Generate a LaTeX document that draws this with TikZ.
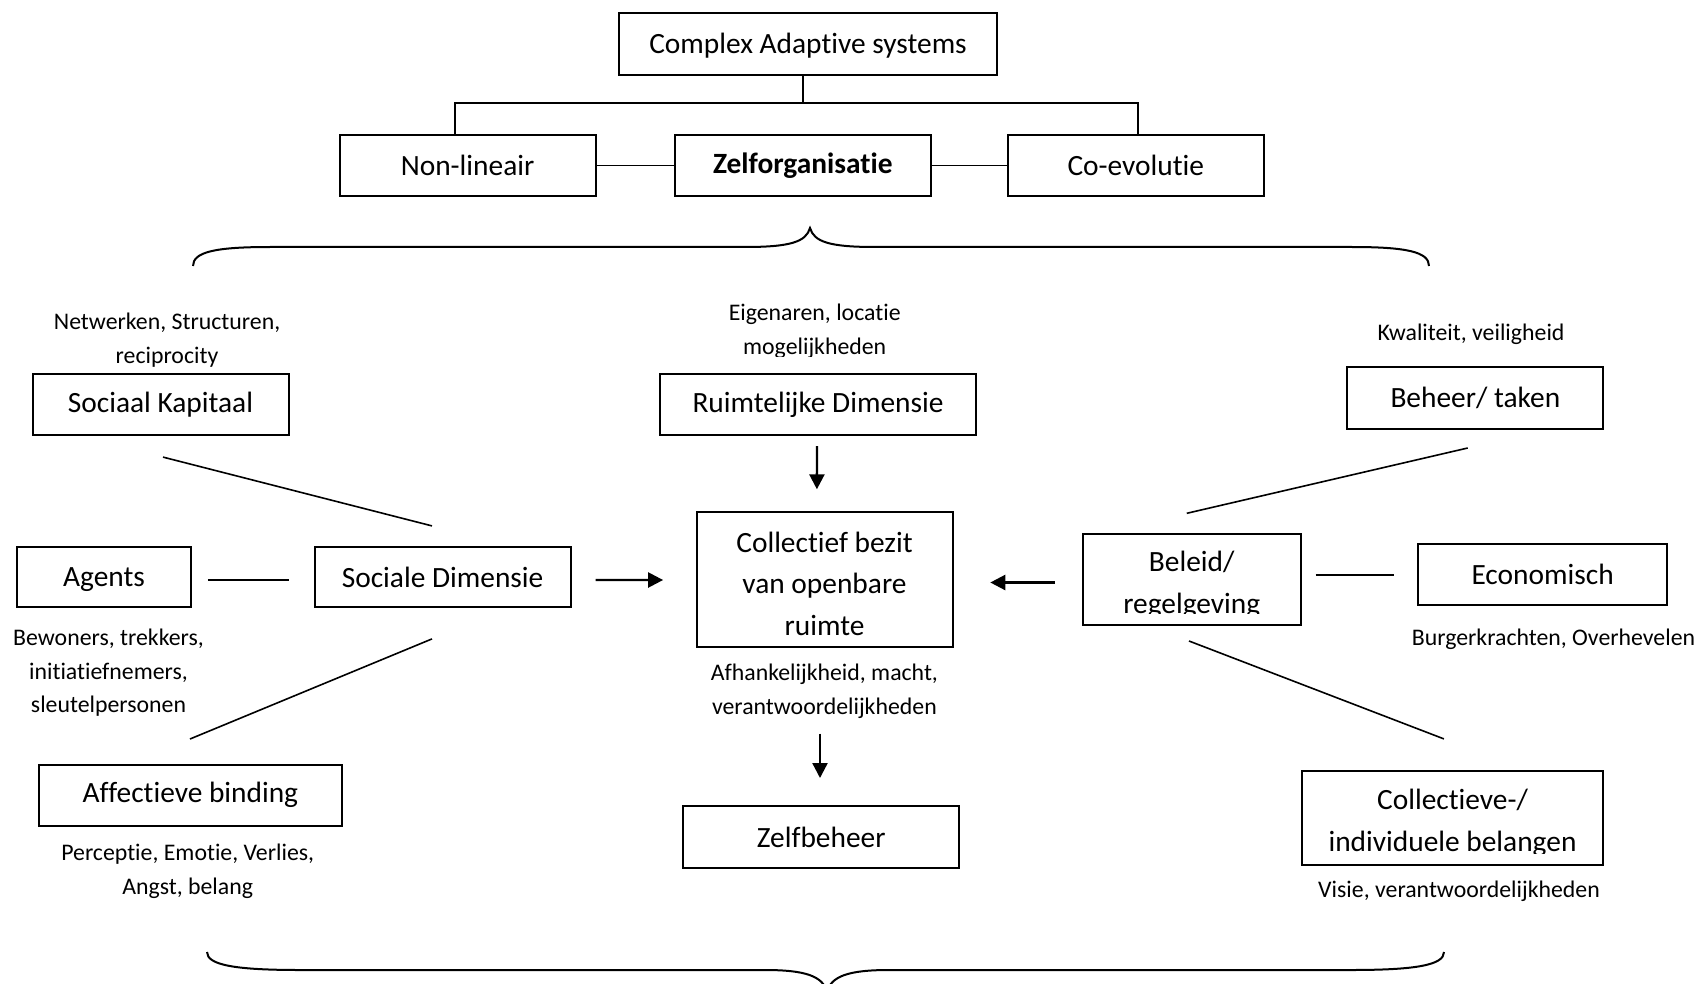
\documentclass[tikz,border=0pt]{standalone}
\usepackage{fontspec}
\setmainfont{Carlito}[Ligatures={NoCommon,NoRequired,NoContextual},Contextuals=NoAlternate]
\usetikzlibrary{calc,arrows.meta}
\begin{document}
\begin{tikzpicture}[x=0.5pt,y=-0.5pt,
  box/.style={draw, line width=1pt, inner sep=0pt, align=center,
    font=\fontsize{14.7}{20.8}\selectfont},
  boxtext/.style={inner sep=0pt, align=center,
    font=\fontsize{14.7}{20.8}\selectfont},
  note/.style={inner sep=0pt, align=center,
    font=\fontsize{11.9}{16.8}\selectfont},
  link/.style={line width=0.8pt},
  arr/.style={line width=1.2pt, -{Triangle[length=7.5pt,width=7.5pt]}},
  brace/.style={line width=1pt}]
\useasboundingbox (0,0) rectangle (1701,984);

% ---- top: complex adaptive systems ----
\node[box, minimum width=189pt, minimum height=31pt, text height=12.3pt, text depth=3pt] (cas) at (808,44) {Complex Adaptive systems};
\node[box, minimum width=128pt, minimum height=30.5pt] (nl) at (467.6,165.5) {Non-lineair};
\node[box, minimum width=128pt, minimum height=30.5pt] (zo) at (802.8,165.5) {\bfseries Zelforganisatie};
\node[box, minimum width=128pt, minimum height=30.5pt] (ce) at (1135.8,165.5) {Co-evolutie};

\coordinate (bar) at (802.8,103);
\draw[link] (bar) -- (bar |- cas.south);
\draw[link] ($(nl.north)+(-12.6,0)$) |- (bar) -| ($(ce.north)+(2,0)$);
\draw[link] (nl.east) -- (zo.west);
\draw[link] (zo.east) -- (ce.west);

% upper brace
\draw[brace] (193,266) .. controls (193,252) and (215,247) .. (270,247)
  -- (745,247) .. controls (790,247) and (806,242) .. (810,228)
  .. controls (814,242) and (830,247) .. (875,247)
  -- (1352,247) .. controls (1407,247) and (1429,252) .. (1429,266);

% ---- left: social dimension ----
\node[note] (skn) at (167,340) {Netwerken, Structuren,\\reciprocity};
\node[box, minimum width=128pt, minimum height=30.5pt] (sk) at (160.5,404.6) {Sociaal Kapitaal};
\node[box, minimum width=86.8pt, minimum height=30.4pt, text height=12pt, text depth=3pt] (ag) at (104,577) {Agents};
\node[box, minimum width=128pt, minimum height=30.4pt] (sd) at (442.6,577) {Sociale Dimensie};
\node[note] (agn) at (108.5,673) {Bewoners, trekkers,\\initiatiefnemers,\\sleutelpersonen};
\node[box, minimum width=151.3pt, minimum height=30.4pt] (ab) at (190.4,795.2) {Affectieve binding};
\node[note] (abn) at (187.7,871) {Perceptie, Emotie, Verlies,\\Angst, belang};

% ---- centre: spatial dimension and collective ownership ----
\begin{scope}
  \clip (600,290) rectangle (1030,356);
  \node[note] (rdn) at (814.7,331.5) {Eigenaren, locatie\\mogelijkheden};
\end{scope}
\node[box, minimum width=158.4pt, minimum height=30.4pt] (rd) at (818,404.6) {Ruimtelijke Dimensie};
\node[box, minimum width=128pt, minimum height=67.3pt] (cb) at (824.5,579.3) {};
\node[boxtext] (cbt) at (824.5,583.5) {Collectief bezit\\van openbare\\ruimte};
\node[note] (cbn) at (824.4,691) {Afhankelijkheid, macht,\\verantwoordelijkheden};
\node[box, minimum width=137.8pt, minimum height=31pt] (zb) at (821.2,837) {Zelfbeheer};

% ---- right: policy ----
\node[note] (btn) at (1471,334.5) {Kwaliteit, veiligheid};
\node[box, minimum width=128pt, minimum height=30.9pt] (bt) at (1475.3,397.6) {Beheer/ taken};
\node[box, minimum width=109pt, minimum height=45.5pt] (bl) at (1191.7,579.3) {};
\begin{scope}
  \clip ($(bl.north west)+(1,1)$) rectangle (1300,613);
  \node[boxtext] (blt) at (1191.7,585) {Beleid/\\regelgeving};
\end{scope}
\node[box, minimum width=124.8pt, minimum height=30.9pt] (ec) at (1542.6,574.4) {Economisch};
\node[note] (ecn) at (1553.4,639.3) {Burgerkrachten, Overhevelen};
\node[box, minimum width=150.8pt, minimum height=46.6pt] (ci) at (1452.5,818) {};
\begin{scope}
  \clip ($(ci.north west)+(1,1)$) rectangle (1602,853);
  \node[boxtext] (cit) at (1452.5,823) {Collectieve-/\\individuele belangen};
\end{scope}
\node[note] (cin) at (1459,891) {Visie, verantwoordelijkheden};

% ---- connectors ----
\draw[link] ($(sk.south)+(2.5,21)$) -- ($(sd.north)+(-10.6,-19.7)$);
\draw[link] ($(ag.east)+(16,3)$) -- ($(sd.west)+(-24.6,3)$);
\draw[arr] ($(sd.east)+(24,3)$) -- ($(cb.west)+(-32.4,0.7)$);
\draw[link] ($(sd.south)+(-10.6,30.5)$) -- ($(ab.north)+(-0.4,-24.8)$);
\draw[arr] ($(rd.south)+(-1,10)$) -- ($(cb.north)+(-7.6,-21.7)$);
\draw[arr] ($(cbn.south)+(-4.4,15)$) -- ($(zb.north)+(-1.2,-27)$);
\draw[link] ($(bt.south)+(-7.6,18.5)$) -- ($(bl.north)+(-4.9,-19.5)$);
\draw[arr] ($(bl.west)+(-27,3.2)$) -- ($(cb.east)+(36.8,3.2)$);
\draw[link] ($(bl.east)+(14,-4.3)$) -- ($(ec.west)+(-22.8,0.6)$);
\draw[link] ($(bl.south)+(-2.7,15.2)$) -- ($(ci.north)+(-8.6,-31.5)$);

% lower brace
\draw[brace] (207,952) .. controls (207,965) and (235,970) .. (300,970)
  -- (765,970) .. controls (805,970) and (823,976) .. (827,992)
  .. controls (831,976) and (849,970) .. (889,970)
  -- (1351,970) .. controls (1416,970) and (1444,965) .. (1444,952);
\end{tikzpicture}
\end{document}
